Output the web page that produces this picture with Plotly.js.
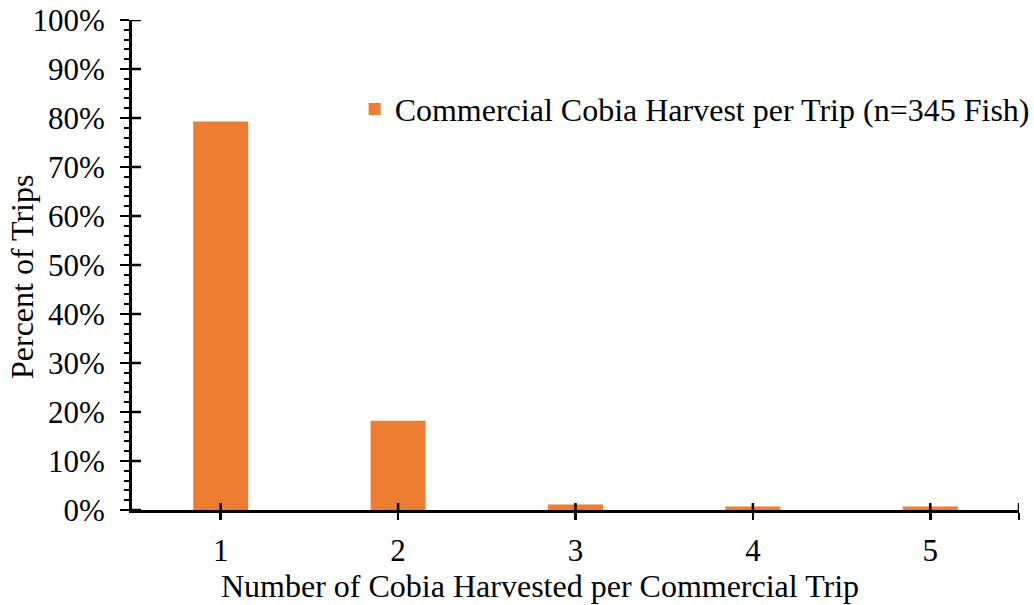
<!DOCTYPE html>
<html>
<head>
<meta charset="utf-8">
<script src="https://cdn.plot.ly/plotly-3.0.1.min.js"></script>
<style>html,body{margin:0;padding:0;background:#fff;}#chart{width:1034px;height:605px;}</style>
</head>
<body>
<div id="chart"></div>
<script>
var categories = [1, 2, 3, 4, 5];
var percentOfTrips = [79.3, 18.2, 1.1, 0.7, 0.7];
var seriesName = 'Commercial Cobia Harvest per Trip (n=345 Fish)';
var xTickVals = [1, 2, 3, 4, 5, 5.5];
var xTickText = ['1', '2', '3', '4', '5', ''];
var yTickVals = [0, 10, 20, 30, 40, 50, 60, 70, 80, 90, 100];
var xTitle = 'Number of Cobia Harvested per Commercial Trip';
var yTitle = 'Percent of Trips';

var font = 'Liberation Serif, Times New Roman, serif';

var trace = {
  type: 'bar',
  x: categories,
  y: percentOfTrips,
  name: seriesName,
  width: 0.31,
  marker: {color: '#ED7D31'},
  showlegend: true,
  hoverinfo: 'skip'
};

// inner halves of the crossing major ticks (tick decoration, from the tick arrays)
var shapes = [];
yTickVals.forEach(function (v) {
  shapes.push({type: 'line', layer: 'above', xref: 'paper', yref: 'y',
    xsizemode: 'pixel', xanchor: 0, x0: 0, x1: 9, y0: v, y1: v,
    line: {color: '#000', width: 2.5}});
});
xTickVals.forEach(function (v) {
  shapes.push({type: 'line', layer: 'above', xref: 'x', yref: 'paper',
    ysizemode: 'pixel', yanchor: 0, y0: 0, y1: 7, x0: v, x1: v,
    line: {color: '#000', width: 2.5}});
});

var layout = {
  width: 1034, height: 605,
  margin: {l: 132, r: 15, t: 20, b: 95, pad: 0, autoexpand: false},
  paper_bgcolor: '#fff', plot_bgcolor: '#fff',
  font: {family: font, size: 31, color: '#000'},
  showlegend: true,
  legend: {x: 0.251, xanchor: 'left', y: 0.818, yanchor: 'middle',
           font: {family: font, size: 32, color: '#000'}, bgcolor: 'rgba(0,0,0,0)'},
  shapes: shapes,
  annotations: [
    {text: xTitle, xref: 'paper', yref: 'paper', x: 0.46, y: -0.155,
     xanchor: 'center', yanchor: 'middle', showarrow: false,
     font: {family: font, size: 32, color: '#000'}},
    {text: yTitle, xref: 'paper', yref: 'paper', x: -0.124, y: 0.4755, textangle: -90,
     xanchor: 'center', yanchor: 'middle', showarrow: false,
     font: {family: font, size: 32, color: '#000'}}
  ],
  xaxis: {
    range: [0.5, 5.5], tickvals: xTickVals, ticktext: xTickText,
    ticks: 'outside', ticklen: 7, tickwidth: 2.5, tickcolor: '#000',
    showline: true, linewidth: 3, linecolor: '#000', showgrid: false, zeroline: false,
    tickfont: {family: font, size: 31}, ticklabelstandoff: 4
  },
  yaxis: {
    range: [0, 100], tick0: 0, dtick: 10, ticksuffix: '%',
    ticks: 'outside', ticklen: 9, tickwidth: 2.5, tickcolor: '#000',
    minor: {dtick: 2, ticks: 'outside', ticklen: 5, tickwidth: 2, tickcolor: '#000', showgrid: false},
    showline: true, linewidth: 3, linecolor: '#000', showgrid: false, zeroline: false,
    tickfont: {family: font, size: 31}, ticklabelstandoff: 9
  }
};

Plotly.newPlot('chart', [trace], layout, {staticPlot: true, displayModeBar: false});
</script>
</body>
</html>
